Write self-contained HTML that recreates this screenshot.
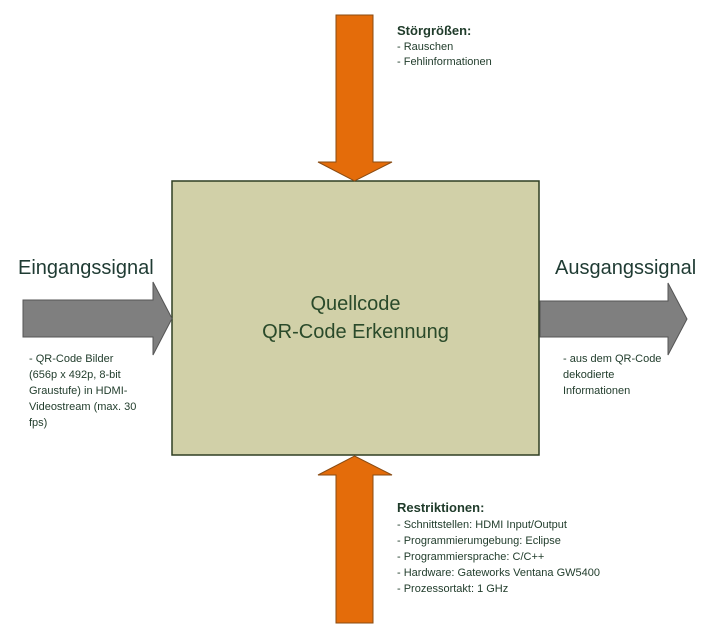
<!DOCTYPE html>
<html><head><meta charset="utf-8"><style>
html,body{margin:0;padding:0;background:#fff;width:719px;height:629px;overflow:hidden}
svg{display:block;font-family:"Liberation Sans",sans-serif}
</style></head><body>
<svg width="719" height="629" viewBox="0 0 719 629" xmlns="http://www.w3.org/2000/svg">
<!-- box -->
<rect x="172" y="181" width="367" height="274" fill="#D1D0A8" stroke="#2f3f22" stroke-width="1.5"/>
<!-- top arrow -->
<polygon points="336,15 373,15 373,162 392,162 354.5,181 318,162 336,162" fill="#E46C0A" stroke="#8a4b12" stroke-width="1"/>
<!-- bottom arrow -->
<polygon points="354.5,456 392,475 373,475 373,623 336,623 336,475 318,475" fill="#E46C0A" stroke="#8a4b12" stroke-width="1"/>
<!-- left arrow -->
<polygon points="23,300 153,300 153,282 172,318.5 153,355 153,337 23,337" fill="#7F7F7F" stroke="#555" stroke-width="1"/>
<!-- right arrow -->
<polygon points="540,301 668,301 668,283 687,319 668,355 668,337 540,337" fill="#7F7F7F" stroke="#555" stroke-width="1"/>

<g fill="#2a4a2a">
<text x="355.5" y="310" font-size="20" text-anchor="middle">Quellcode</text>
<text x="355.5" y="338" font-size="20" text-anchor="middle">QR-Code Erkennung</text>
<text x="18" y="274" font-size="20" fill="#1f3b33">Eingangssignal</text>
<text x="555" y="274" font-size="20" fill="#1f3b33">Ausgangssignal</text>
</g>

<g font-size="11" fill="#1f3b2a">
<text x="397" y="35" font-weight="bold" font-size="13">Störgrößen:</text>
<text x="397" y="50">- Rauschen</text>
<text x="397" y="65">- Fehlinformationen</text>

<text x="29" y="362">- QR-Code Bilder</text>
<text x="29" y="378">(656p x 492p, 8-bit</text>
<text x="29" y="394">Graustufe) in HDMI-</text>
<text x="29" y="410">Videostream (max. 30</text>
<text x="29" y="426">fps)</text>

<text x="563" y="362">- aus dem QR-Code</text>
<text x="563" y="378">dekodierte</text>
<text x="563" y="394">Informationen</text>

<text x="397" y="512" font-weight="bold" font-size="13">Restriktionen:</text>
<text x="397" y="528">- Schnittstellen: HDMI Input/Output</text>
<text x="397" y="544">- Programmierumgebung: Eclipse</text>
<text x="397" y="560">- Programmiersprache: C/C++</text>
<text x="397" y="576">- Hardware: Gateworks Ventana GW5400</text>
<text x="397" y="592">- Prozessortakt: 1 GHz</text>
</g>
</svg>
</body></html>
